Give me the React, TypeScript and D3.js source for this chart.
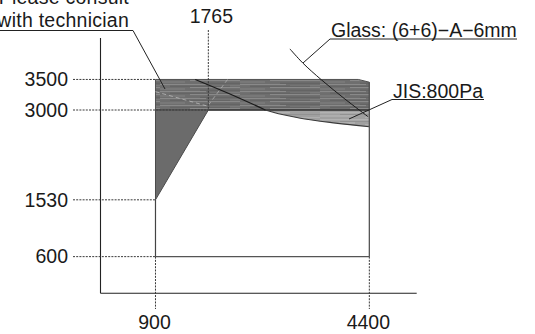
import React from "react";
import * as d3 from "d3";

// ---- data ----
const xTicks = [900, 4400];
const yTicks = [3500, 3000, 1530, 600];
const topTick = 1765;
const frameBottom = 600;
const frameLeft = 900;
const frameRight = 4400;
const bandTop = 3500;
const bandBottom = 3000;
const bandChamfer: [number, number][] = [
  [4220, 3500],
  [4400, 3455],
];
const darkPoly: [number, number][] = [
  [900, 1530],
  [900, 3000],
  [1765, 3000],
];
const jisCurve: [number, number][] = [
  [1550, 3500],
  [2100, 3270],
  [2700, 3000],
  [3250, 2870],
  [3850, 2785],
  [4400, 2725],
];
const glassCurve: [number, number][] = [
  [3100, 4000],
  [3310, 3770],
  [3620, 3490],
  [4000, 3180],
  [4380, 2890],
];
const noteLines = ["Please consult", "with technician"];
const glassLabel = "Glass: (6+6)−A−6mm";
const jisLabel = "JIS:800Pa";

const K = 0.0611;
const X0 = 100.5;
const Y0 = 293.3;
const xMax = 5175;
const yMax = 4180;

export default function App() {
  const x = d3.scaleLinear().domain([0, xMax]).range([X0, X0 + xMax * K]);
  const y = d3.scaleLinear().domain([0, yMax]).range([Y0, Y0 - yMax * K]);

  const font = "'Liberation Sans', Arial, sans-serif";
  const fs = 19.5;
  const dash = "2 1.2";
  const dashColor = "#3a3a3a";

  const line = d3
    .line<[number, number]>()
    .x((d) => x(d[0]))
    .y((d) => y(d[1]))
    .curve(d3.curveMonotoneX);
  const glassLine = d3
    .line<[number, number]>()
    .x((d) => x(d[0]))
    .y((d) => y(d[1]))
    .curve(d3.curveCatmullRom);
  const lightArea = d3
    .area<[number, number]>()
    .x((d) => x(d[0]))
    .y0(y(bandBottom))
    .y1((d) => y(d[1]))
    .curve(d3.curveMonotoneX);

  const bandPts: [number, number][] = [
    [frameLeft, bandTop],
    ...bandChamfer,
    [frameRight, bandBottom],
    [frameLeft, bandBottom],
  ];
  const poly = (pts: [number, number][]) =>
    "M" + pts.map((p) => `${x(p[0])},${y(p[1])}`).join("L") + "Z";

  // texture stripes (style only)
  const darkStripes = [
    { yy: 0.6, x1: 0, x2: 46, c: "#8e8e8e", w: 0.9 },
    { yy: 1.6, x1: 50, x2: 80, c: "#858585", w: 0.6 },
    { yy: 2.2, x1: 10, x2: 70, c: "#5c5c5c", w: 0.8 },
    { yy: 3.6, x1: 30, x2: 80, c: "#939393", w: 0.8 },
    { yy: 5.0, x1: 0, x2: 25, c: "#878787", w: 0.8 },
    { yy: 6.3, x1: 40, x2: 80, c: "#5a5a5a", w: 0.7 },
  ];
  const lightStripes = [
    { yy: 0.8, x1: 0, x2: 50, c: "#bdbdbd", w: 0.9 },
    { yy: 2.5, x1: 20, x2: 80, c: "#8d8d8d", w: 0.7 },
    { yy: 4.0, x1: 0, x2: 35, c: "#c2c2c2", w: 0.8 },
    { yy: 5.6, x1: 45, x2: 80, c: "#b5b5b5", w: 0.8 },
  ];

  const yx = x(0);
  return (
    <svg
      width={535}
      height={334}
      style={{ position: "absolute", left: 0, top: 0, background: "#fff" }}
    >
      <defs>
        <pattern id="darkGrain" patternUnits="userSpaceOnUse" width={80} height={7}>
          <rect width={80} height={7} fill="#6e6e6e" />
          {darkStripes.map((s, i) => (
            <line key={i} x1={s.x1} x2={s.x2} y1={s.yy} y2={s.yy} stroke={s.c} strokeWidth={s.w} />
          ))}
        </pattern>
        <pattern id="lightGrain" patternUnits="userSpaceOnUse" width={80} height={7}>
          <rect width={80} height={7} fill="#a0a0a0" />
          {lightStripes.map((s, i) => (
            <line key={i} x1={s.x1} x2={s.x2} y1={s.yy} y2={s.yy} stroke={s.c} strokeWidth={s.w} />
          ))}
        </pattern>
      </defs>

      {/* axes */}
      <line x1={yx} x2={yx} y1={y(yMax)} y2={y(0)} stroke="#222" strokeWidth={1.1} />
      <line x1={yx} x2={x(xMax)} y1={y(0)} y2={y(0)} stroke="#222" strokeWidth={1.1} />

      {/* light region under band */}
      <path d={lightArea(jisCurve) || ""} fill="url(#lightGrain)" />
      <path d={line(jisCurve) || ""} fill="none" stroke="#3a3a3a" strokeWidth={1.1} />

      {/* dark band */}
      <path d={poly(bandPts)} fill="url(#darkGrain)" stroke="#505050" strokeWidth={1} />
      <line
        x1={x(topTick)}
        x2={x(frameRight)}
        y1={y(bandBottom)}
        y2={y(bandBottom)}
        stroke="#3a3a3a"
        strokeWidth={1.4}
      />
      {/* faint lighter dashed streaks in band */}
      <line x1={x(900)} y1={y(3300)} x2={x(1765)} y2={y(3060)} stroke="#b8b8b8" strokeWidth={0.8} strokeDasharray="4 3" />
      <line x1={x(1765)} y1={y(3080)} x2={x(2080)} y2={y(3500)} stroke="#b0b0b0" strokeWidth={0.8} strokeDasharray="4 3" />

      {/* dark solid polygon */}
      <path d={poly(darkPoly)} fill="#6b6b6b" stroke="#4a4a4a" strokeWidth={1} />

      {/* frame */}
      <line x1={x(frameLeft)} x2={x(frameRight)} y1={y(frameBottom)} y2={y(frameBottom)} stroke="#555" strokeWidth={1.3} />
      <line x1={x(frameRight)} x2={x(frameRight)} y1={y(frameBottom)} y2={y(bandChamfer[1][1])} stroke="#555" strokeWidth={1.3} />
      <line x1={x(frameLeft)} x2={x(frameLeft)} y1={y(frameBottom)} y2={y(darkPoly[0][1])} stroke="#444" strokeWidth={1.2} />

      {/* JIS curve portion over band */}
      <path
        d={line(jisCurve.filter((d) => d[1] >= bandBottom)) || ""}
        fill="none"
        stroke="#1a1a1a"
        strokeWidth={1.2}
      />
      {/* glass curve */}
      <path d={glassLine(glassCurve) || ""} fill="none" stroke="#1a1a1a" strokeWidth={1} />

      {/* dashed guides */}
      {yTicks.map((v) => (
        <line
          key={"g" + v}
          x1={73}
          x2={v === 3000 ? x(topTick) : x(frameLeft)}
          y1={y(v)}
          y2={y(v)}
          stroke={dashColor}
          strokeWidth={1}
          strokeDasharray={dash}
        />
      ))}
      {xTicks.map((v) => (
        <line
          key={"v" + v}
          x1={x(v)}
          x2={x(v)}
          y1={y(frameBottom)}
          y2={309}
          stroke={dashColor}
          strokeWidth={1}
          strokeDasharray={dash}
        />
      ))}
      <line x1={x(topTick)} x2={x(topTick)} y1={30} y2={y(bandBottom)} stroke={dashColor} strokeWidth={1} strokeDasharray={dash} />

      {/* tick labels */}
      <g fontFamily={font} fontSize={fs} fill="#1a1a1a">
        {yTicks.map((v) => (
          <text key={"t" + v} x={68} y={y(v)} dy="0.35em" textAnchor="end">
            {v}
          </text>
        ))}
        {xTicks.map((v) => (
          <text key={"x" + v} x={x(v) - 1} y={329} textAnchor="middle">
            {v}
          </text>
        ))}
        <text x={x(topTick) + 3} y={23} textAnchor="middle">
          {topTick}
        </text>

        {/* notes */}
        <text x={129} y={4} textAnchor="end" letterSpacing={0.25}>
          {noteLines[0]}
        </text>
        <text x={129} y={27} textAnchor="end" letterSpacing={0.25}>
          {noteLines[1]}
        </text>
        <text x={331} y={36.5}>
          {glassLabel}
        </text>
        <text x={393} y={97.5}>
          {jisLabel}
        </text>
      </g>

      {/* leaders */}
      <g stroke="#222" strokeWidth={1} fill="none">
        <polyline points={`0,30.5 133,30.5 165,89`} />
        <polyline points={`517,39 330,39 303,63`} />
        <polyline points={`484,99.5 392,99.5 349,119`} />
      </g>
    </svg>
  );
}
